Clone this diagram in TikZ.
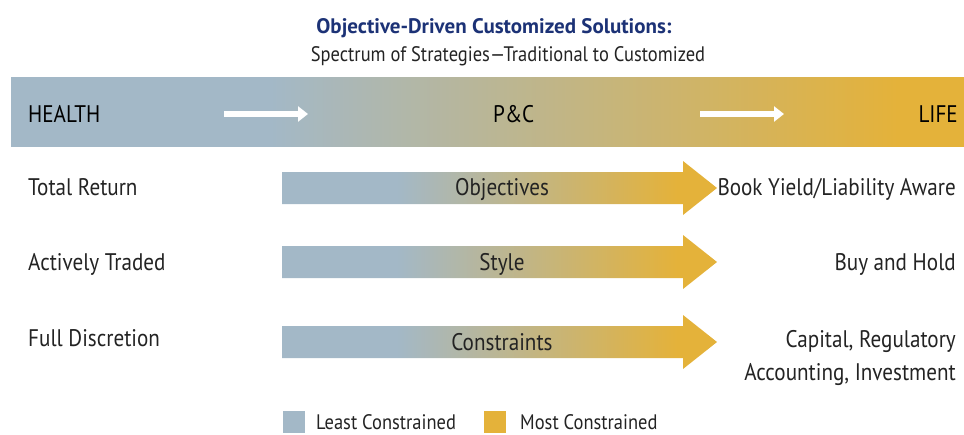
\documentclass[tikz,border=0pt]{standalone}
\usepackage{fontspec}
\setmainfont{PT Sans}[FakeStretch=0.88]
\newfontfamily\titlefont{PT Sans}
\usetikzlibrary{arrows.meta}

\definecolor{lblue}{RGB}{163,184,199}
\definecolor{lgold}{RGB}{228,178,58}
\definecolor{titleblue}{RGB}{28,50,118}
\definecolor{txtgray}{RGB}{35,35,35}

\pgfdeclarehorizontalshading{barshade}{100bp}{color(0bp)=(lblue); color(38.6bp)=(lblue); color(71.5bp)=(lgold); color(100bp)=(lgold)}
\pgfdeclarehorizontalshading{rowshade}{100bp}{color(0bp)=(lblue); color(38.2bp)=(lblue); color(70.4bp)=(lgold); color(100bp)=(lgold)}

\begin{document}
\begin{tikzpicture}
 [
  x=1pt, y=-1pt,
  big/.style      = {font=\fontsize{24}{33}\selectfont, text=txtgray, inner sep=0pt},
  small/.style    = {font=\fontsize{21}{24}\selectfont, text=txtgray, inner sep=0pt},
  swatch/.style   = {minimum size=22pt, inner sep=0pt},
  hdrarrow/.style = {white, line width=6pt, -{Triangle[length=10pt,width=15pt]}},
  rowarrow/.style = {shading=rowshade},
 ]
 \useasboundingbox (0,0) rectangle (964,434);

 % title
 \node[small, font=\fontsize{21}{24}\titlefont\bfseries, text=titleblue, anchor=base] (title) at (494,33) {Objective-Driven Customized Solutions:};
 \node[small, anchor=base] (subtitle) at (508,61) {Spectrum of Strategies---Traditional to Customized};

 % header bar
 \shade[shading=barshade] (11,77) rectangle (964,146);
 \node[big, text=black, anchor=base west] (health) at (28,122.7) {HEALTH};
 \node[big, text=black, anchor=base west] (pc) at (493,122.7) {P\&C};
 \node[big, text=black, anchor=base east] (life) at (958,122.7) {LIFE};
 \coordinate (h1) at (224,114);
 \coordinate (h2) at (308,114);
 \coordinate (h3) at (700,114);
 \coordinate (h4) at (784,114);
 \draw[hdrarrow] (h1) -- (h2);
 \draw[hdrarrow] (h3) -- (h4);

 % rows
 \foreach \y/\b/\m/\rb/\l/\c/\r [count=\i] in {188/195/195.7/195/Total Return/Objectives/Book Yield\slash Liability Aware,
                                              262/270/270/270/Actively Traded/Style/Buy and Hold,
                                              342/346.7/350/380/Full Discretion/Constraints/{Capital, Regulatory\\Accounting, Investment}}
 {
  \shade[rowarrow] (282,\y-16) -- (683,\y-16) -- (683,\y-27) -- (717,\y) -- (683,\y+27) -- (683,\y+16) -- (282,\y+16) -- cycle;
  \node[big, anchor=base west] (left\i) at (28,\b) {\l};
  \node[big, anchor=base] (mid\i) at (502,\m) {\c};
  \node[big, anchor=base east, align=right] (right\i) at (956,\rb) {\r};
 }

 % legend
 \node[swatch, fill=lblue] (leastbox) at (294,422) {};
 \node[small, anchor=base west, text depth=0pt] (least) at (316,429) {Least Constrained};
 \node[swatch, fill=lgold] (mostbox) at (495,422) {};
 \node[small, anchor=base west, text depth=0pt] (most) at (520,429) {Most Constrained};
\end{tikzpicture}
\end{document}
